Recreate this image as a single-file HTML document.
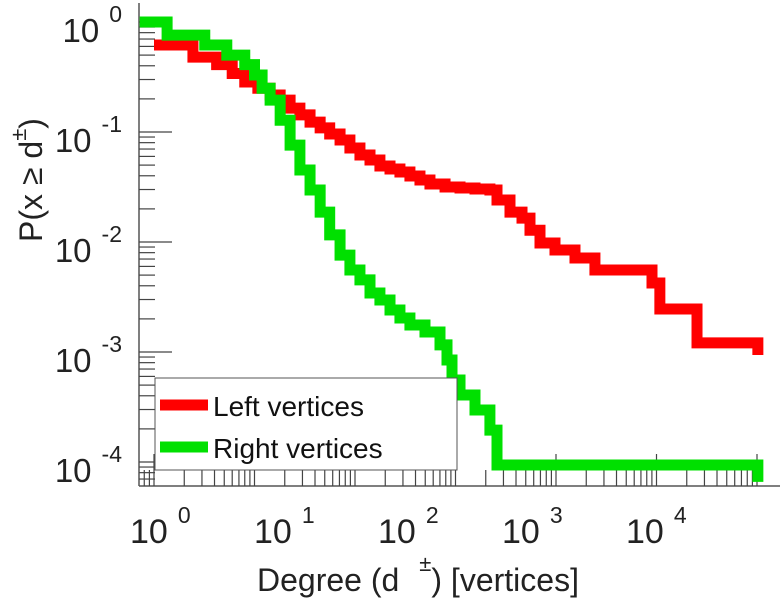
<!DOCTYPE html>
<html><head><meta charset="utf-8"><style>
html,body{margin:0;padding:0;background:#fff;}
svg{display:block;font-family:"Liberation Sans",sans-serif;}
</style></head><body>
<svg id="chart" width="782" height="600" viewBox="0 0 782 600">
<g id="ticks"></g>
<g id="series"></g>
<g id="labels"></g>
<text x="257" y="591" font-size="32" fill="#222">Degree (d<tspan dx="20" dy="-20" font-size="22">±</tspan><tspan dy="20">) [vertices]</tspan></text>
<text transform="translate(42,180) rotate(-90)" font-size="32" text-anchor="middle" fill="#222">P(x ≥ d<tspan dy="-16" font-size="22">±</tspan><tspan dy="16">)</tspan></text>
<g>
<rect x="155" y="378" width="302" height="92" fill="#fff" stroke="#555" stroke-width="1"/>
<line x1="160" y1="405" x2="208" y2="405" stroke="#ff0000" stroke-width="11"/>
<text x="213" y="416" font-size="28" fill="#111">Left vertices</text>
<line x1="160" y1="447" x2="208" y2="447" stroke="#00e000" stroke-width="11"/>
<text x="213" y="458" font-size="28" fill="#111">Right vertices</text>
</g>
</svg>
<script>
const leftDegree=[1,2.44,4.2,6,8,10.8,14.3,18,22.6,28.3,35.7,45,56,71,89,112,141,177,223,280,352,443,557,787,1109,1563,2200,2588,3485,4590,5510,6930,9770,15450,24400,90200,108000,253000,1020000];
const leftProb=[0.618,0.48,0.41,0.34,0.285,0.25,0.217,0.195,0.165,0.143,0.123,0.109,0.096,0.0846,0.0716,0.0618,0.0556,0.0491,0.0461,0.0433,0.0398,0.0366,0.0337,0.0316,0.031,0.0303,0.0297,0.0241,0.0187,0.0165,0.0128,0.0098,0.00846,0.00716,0.00556,0.00424,0.00246,0.00121,0.00094];
const rightDegree=[0.72,1.35,3.2,5.3,8,10,11.9,14.3,18,22.6,28.3,35.7,45,56,71,89,112,141,177,223,280,352,497,701,823,923,1109,1563,2200,2588,1020000];
const rightProb=[1,0.76,0.618,0.5,0.41,0.33,0.25,0.195,0.128,0.076,0.0451,0.0297,0.0187,0.0116,0.0076,0.00556,0.00452,0.00344,0.00297,0.00241,0.00204,0.00176,0.00152,0.00116,0.000845,0.000556,0.000406,0.000297,0.000195,0.000094,0.000066];
const xTickExps=[0,1,2,3,4];
const yTickExps=[0,-1,-2,-3,-4];
const yTickLabels=["0","-1","-2","-3","-4"];
const xTickLabels=["0","1","2","3","4"];

const NS="http://www.w3.org/2000/svg";
const X0=154,XD=100.5,Y0=22,YD=110,AXL=139,AXB=486,AXR=780,AXT=3;
const xs=d=>X0+Math.log10(d)*XD;
const ys=p=>Y0-Math.log10(p)*YD;
const xLabelPos=e=>130+e*124;
function mk(tag,attrs,parent){const e=document.createElementNS(NS,tag);for(const k in attrs)e.setAttribute(k,attrs[k]);parent.appendChild(e);return e;}
const tg=document.getElementById('ticks');
const ax1=mk('line',{x1:AXL,y1:AXT,x2:AXL,y2:AXB,stroke:'#555','stroke-width':1.5},tg);


const ax2=mk('line',{x1:AXL,y1:AXB,x2:AXR,y2:AXB,stroke:'#555','stroke-width':1.5},tg);


for(let e=-5;e<=0;e++){for(let m=1;m<10;m++){const v=m*Math.pow(10,e);const y=ys(v);if(y<AXT||y>AXB)continue;
const t=mk('line',{x1:AXL,y1:y,x2:AXL+(m===1?33:16),y2:y,stroke:'#444','stroke-width':1.2},tg);

}}
for(let e=-1;e<=6;e++){for(let m=1;m<10;m++){const v=m*Math.pow(10,e);const x=xs(v);if(x<AXL||x>AXR)continue;
const t=mk('line',{x1:x,y1:AXB,x2:x,y2:AXB-(m===1?32:16),stroke:'#444','stroke-width':1.2},tg);

}}
function stepPath(dx,py){let d='';for(let i=0;i<dx.length;i++){const x=xs(dx[i]),y=ys(py[i]);
if(i===0)d+='M'+x+','+y;else{d+='H'+x+'V'+y;}}return d;}
const sg=document.getElementById('series');
const pr=mk('path',{d:stepPath(leftDegree,leftProb),fill:'none',stroke:'#ff0000','stroke-width':11,'stroke-linejoin':'miter'},sg);


const pg=mk('path',{d:stepPath(rightDegree,rightProb),fill:'none',stroke:'#00e000','stroke-width':11,'stroke-linejoin':'miter'},sg);


const lg=document.getElementById('labels');
yTickExps.forEach((e,i)=>{const y=ys(Math.pow(10,e));
const t=mk('text',{x:122,y:y+20,'text-anchor':'end',fill:'#222','font-size':33},lg);


const a=mk('tspan',{},t);a.textContent='10';
const s=mk('tspan',{dx:10,dy:-20,'font-size':23},t);s.textContent=yTickLabels[i];});
xTickExps.forEach((e,i)=>{const x=xLabelPos(e);
const t=mk('text',{x:x,y:543,fill:'#222','font-size':34},lg);


const a=mk('tspan',{},t);a.textContent='10';
const s=mk('tspan',{dx:10,dy:-20,'font-size':23},t);s.textContent=xTickLabels[i];});
</script>
</body></html>
